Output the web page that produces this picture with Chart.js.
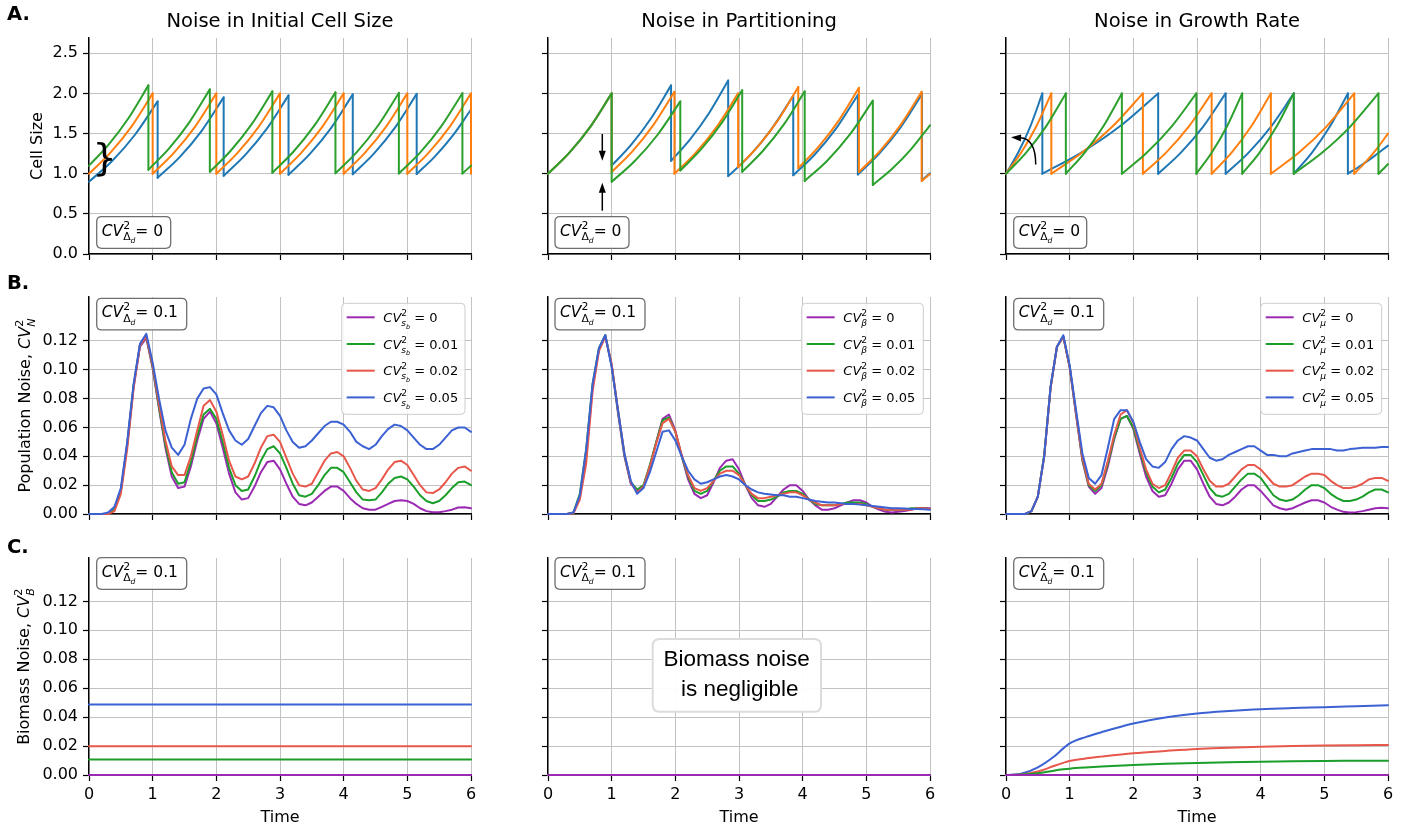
<!DOCTYPE html>
<html><head><meta charset="utf-8">
<script src="https://cdn.jsdelivr.net/npm/chart.js@4.4.1/dist/chart.umd.min.js"></script>
<style>html,body{margin:0;padding:0;background:#fff;width:1415px;height:829px;overflow:hidden;position:relative}canvas{position:absolute}</style>
</head><body>
<script>
// ---------------- DATA ----------------
// Row A: single-cell size traces [time, size]
const sizeInitBlue = [[0,0.9],[0.359,1.155],[0.719,1.482],[1.078,1.9],[1.078,0.95],[1.424,1.207],[1.770,1.534],[2.115,1.95],[2.115,0.975],[2.455,1.234],[2.794,1.561],[3.134,1.975],[3.134,0.9875],[3.470,1.247],[3.807,1.574],[4.143,1.9875],[4.143,0.994],[4.478,1.254],[4.812,1.581],[5.147,1.994],[5.147,0.997],[5.431,1.213],[5.716,1.477],[6,1.799]];
const sizeInitOrange = [[0,1],[0.333,1.26],[0.667,1.587],[1,2],[1,1],[1.333,1.26],[1.667,1.587],[2,2],[2,1],[2.333,1.26],[2.667,1.587],[3,2],[3,1],[3.333,1.26],[3.667,1.587],[4,2],[4,1],[4.333,1.26],[4.667,1.587],[5,2],[5,1],[5.333,1.26],[5.667,1.587],[6,2],[6,1]];
const sizeInitGreen = [[0,1.1],[0.311,1.365],[0.622,1.693],[0.933,2.1],[0.933,1.05],[1.255,1.312],[1.576,1.640],[1.898,2.05],[1.898,1.025],[2.225,1.286],[2.553,1.614],[2.880,2.025],[2.880,1.0125],[3.210,1.273],[3.541,1.601],[3.871,2.0125],[3.871,1.006],[4.203,1.266],[4.535,1.594],[4.867,2.006],[4.867,1.003],[5.200,1.262],[5.532,1.590],[5.865,2.003],[5.865,1.0015],[6,1.10]];

const partBlue = [[0,1],[0.333,1.26],[0.667,1.587],[1,2],[1,1.1],[1.311,1.365],[1.622,1.693],[1.933,2.1],[1.933,1.16],[2.232,1.427],[2.531,1.756],[2.830,2.16],[2.830,0.97],[3.171,1.228],[3.511,1.556],[3.852,1.97],[3.852,0.98],[4.190,1.239],[4.529,1.567],[4.867,1.98],[4.867,0.99],[5.203,1.250],[5.538,1.577],[5.874,1.99],[5.874,0.92],[6,1.004]];
const partOrange = [[0,1],[0.333,1.26],[0.667,1.587],[1,2],[1,1.02],[1.329,1.281],[1.657,1.609],[1.986,2.02],[1.986,1],[2.319,1.26],[2.653,1.587],[2.986,2],[2.986,1.08],[3.301,1.344],[3.616,1.671],[3.931,2.08],[3.931,1.07],[4.248,1.333],[4.566,1.661],[4.883,2.07],[4.883,1.02],[5.212,1.281],[5.540,1.609],[5.869,2.02],[5.869,0.91],[6,0.996]];
const partGreen = [[0,1],[0.333,1.26],[0.667,1.587],[1,2],[1,0.9],[1.359,1.155],[1.719,1.482],[2.078,1.9],[2.078,1.04],[2.402,1.302],[2.726,1.630],[3.050,2.04],[3.050,1.025],[3.377,1.286],[3.705,1.614],[4.032,2.025],[4.032,0.91],[4.389,1.165],[4.745,1.492],[5.102,1.91],[5.102,0.86],[5.401,1.058],[5.701,1.303],[6,1.603]];

const growBlue = [[0,1],[0.190,1.26],[0.381,1.587],[0.571,2],[0.571,1],[1.177,1.26],[1.784,1.587],[2.39,2],[2.39,1],[2.743,1.26],[3.097,1.587],[3.45,2],[3.45,1],[3.807,1.26],[4.163,1.587],[4.52,2],[4.52,1],[4.803,1.26],[5.087,1.587],[5.37,2],[5.37,1],[5.58,1.105],[5.79,1.222],[6,1.35]];
const growOrange = [[0,1],[0.237,1.26],[0.475,1.587],[0.712,2],[0.712,1],[1.191,1.26],[1.671,1.587],[2.15,2],[2.15,1],[2.51,1.26],[2.87,1.587],[3.23,2],[3.23,1],[3.54,1.26],[3.85,1.587],[4.16,2],[4.16,1],[4.597,1.26],[5.033,1.587],[5.47,2],[5.47,1],[5.647,1.145],[5.823,1.310],[6,1.5]];
const growGreen = [[0,1],[0.313,1.26],[0.627,1.587],[0.94,2],[0.94,1],[1.233,1.26],[1.527,1.587],[1.82,2],[1.82,1],[2.21,1.26],[2.60,1.587],[2.99,2],[2.99,1],[3.23,1.26],[3.47,1.587],[3.71,2],[3.71,1],[3.98,1.26],[4.25,1.587],[4.52,2],[4.52,1],[4.963,1.26],[5.407,1.587],[5.85,2],[5.85,1],[5.925,1.058],[6,1.12]];

// Row B: population noise, sampled every 0.1
const timeB = [0,0.1,0.2,0.3,0.4,0.5,0.6,0.7,0.8,0.9,1,1.1,1.2,1.3,1.4,1.5,1.6,1.7,1.8,1.9,2,2.1,2.2,2.3,2.4,2.5,2.6,2.7,2.8,2.9,3,3.1,3.2,3.3,3.4,3.5,3.6,3.7,3.8,3.9,4,4.1,4.2,4.3,4.4,4.5,4.6,4.7,4.8,4.9,5,5.1,5.2,5.3,5.4,5.5,5.6,5.7,5.8,5.9,6];
const popSb0  = [0,0,0,0,0.003,0.016,0.048,0.088,0.116,0.122,0.101,0.073,0.046,0.026,0.018,0.019,0.033,0.051,0.066,0.071,0.063,0.046,0.028,0.015,0.010,0.011,0.019,0.029,0.036,0.037,0.031,0.021,0.012,0.007,0.006,0.008,0.012,0.016,0.019,0.019,0.016,0.011,0.007,0.004,0.003,0.003,0.005,0.007,0.009,0.0095,0.009,0.007,0.004,0.002,0.0012,0.0012,0.002,0.003,0.0045,0.0047,0.004];
const popSb01 = [0,0,0,0,0.003,0.016,0.048,0.089,0.117,0.123,0.102,0.074,0.048,0.029,0.021,0.022,0.036,0.054,0.069,0.073,0.066,0.050,0.032,0.020,0.016,0.017,0.026,0.037,0.045,0.047,0.042,0.032,0.021,0.013,0.012,0.014,0.020,0.027,0.032,0.032,0.029,0.022,0.015,0.010,0.0095,0.010,0.015,0.021,0.025,0.026,0.024,0.019,0.013,0.009,0.0075,0.009,0.013,0.018,0.022,0.0225,0.020];
const popSb02 = [0,0,0,0,0.002,0.014,0.045,0.087,0.117,0.123,0.103,0.076,0.051,0.033,0.027,0.027,0.040,0.058,0.075,0.079,0.071,0.055,0.037,0.026,0.024,0.026,0.035,0.046,0.054,0.055,0.050,0.039,0.028,0.020,0.019,0.021,0.029,0.037,0.042,0.043,0.040,0.032,0.023,0.017,0.016,0.018,0.024,0.031,0.036,0.037,0.034,0.027,0.020,0.015,0.0145,0.017,0.022,0.028,0.032,0.033,0.030];
const popSb05 = [0,0,0,0.001,0.005,0.018,0.050,0.090,0.118,0.125,0.105,0.080,0.058,0.046,0.041,0.048,0.066,0.080,0.087,0.088,0.083,0.070,0.058,0.051,0.048,0.052,0.061,0.070,0.075,0.074,0.068,0.058,0.050,0.046,0.047,0.051,0.056,0.061,0.064,0.064,0.062,0.057,0.050,0.047,0.045,0.048,0.054,0.059,0.062,0.061,0.058,0.053,0.048,0.045,0.045,0.048,0.053,0.058,0.060,0.060,0.057];

const popBeta0  = [0,0,0,0,0.001,0.012,0.040,0.088,0.114,0.124,0.103,0.070,0.040,0.021,0.016,0.019,0.033,0.050,0.066,0.069,0.058,0.040,0.024,0.014,0.011,0.013,0.022,0.032,0.037,0.038,0.031,0.020,0.011,0.006,0.005,0.007,0.012,0.017,0.020,0.020,0.016,0.010,0.006,0.003,0.003,0.004,0.006,0.008,0.0095,0.0095,0.008,0.005,0.003,0.0015,0.001,0.0015,0.002,0.003,0.004,0.0042,0.004];
const popBeta01 = [0,0,0,0,0.001,0.014,0.045,0.090,0.115,0.124,0.103,0.071,0.041,0.022,0.017,0.020,0.034,0.050,0.065,0.067,0.057,0.040,0.026,0.016,0.014,0.016,0.023,0.030,0.033,0.033,0.028,0.020,0.013,0.009,0.009,0.010,0.012,0.015,0.016,0.016,0.014,0.010,0.007,0.006,0.006,0.006,0.007,0.008,0.008,0.008,0.007,0.005,0.004,0.003,0.003,0.003,0.003,0.004,0.004,0.004,0.0035];
const popBeta02 = [0,0,0,0,0.0005,0.010,0.035,0.085,0.113,0.123,0.104,0.072,0.042,0.022,0.015,0.019,0.033,0.049,0.063,0.066,0.057,0.041,0.027,0.018,0.016,0.018,0.023,0.028,0.030,0.030,0.027,0.020,0.014,0.011,0.011,0.012,0.013,0.014,0.015,0.015,0.013,0.010,0.008,0.006,0.006,0.006,0.007,0.007,0.007,0.007,0.006,0.005,0.004,0.003,0.003,0.003,0.003,0.003,0.004,0.004,0.0035];
const popBeta05 = [0,0,0,0,0.001,0.013,0.045,0.090,0.115,0.124,0.102,0.072,0.042,0.023,0.014,0.018,0.029,0.043,0.057,0.058,0.051,0.040,0.030,0.024,0.021,0.022,0.024,0.026,0.027,0.026,0.024,0.020,0.017,0.015,0.014,0.0135,0.013,0.013,0.012,0.012,0.011,0.010,0.009,0.0085,0.008,0.008,0.0075,0.007,0.007,0.0065,0.006,0.0055,0.005,0.0045,0.004,0.004,0.0038,0.0035,0.0035,0.0033,0.003];

const popMu0  = [0,0,0,0,0.002,0.012,0.040,0.088,0.116,0.123,0.102,0.069,0.037,0.019,0.014,0.018,0.033,0.052,0.066,0.068,0.059,0.042,0.026,0.016,0.012,0.013,0.021,0.031,0.037,0.037,0.031,0.021,0.012,0.007,0.006,0.008,0.012,0.017,0.020,0.020,0.016,0.011,0.006,0.004,0.003,0.004,0.006,0.008,0.0095,0.0095,0.008,0.005,0.003,0.0015,0.001,0.0013,0.002,0.003,0.004,0.0043,0.004];
const popMu01 = [0,0,0,0,0.002,0.012,0.041,0.088,0.116,0.123,0.102,0.070,0.038,0.020,0.016,0.020,0.035,0.053,0.066,0.068,0.060,0.044,0.029,0.019,0.015,0.017,0.025,0.035,0.041,0.041,0.036,0.027,0.018,0.013,0.012,0.014,0.019,0.024,0.028,0.028,0.025,0.019,0.013,0.010,0.009,0.010,0.013,0.017,0.020,0.020,0.018,0.014,0.011,0.009,0.009,0.010,0.012,0.015,0.017,0.017,0.015];
const popMu02 = [0,0,0,0,0.002,0.012,0.040,0.087,0.116,0.123,0.102,0.070,0.039,0.021,0.017,0.021,0.037,0.055,0.069,0.072,0.063,0.046,0.031,0.021,0.018,0.020,0.029,0.039,0.044,0.044,0.040,0.031,0.023,0.019,0.019,0.021,0.026,0.031,0.034,0.034,0.031,0.026,0.021,0.019,0.019,0.020,0.023,0.026,0.028,0.028,0.027,0.023,0.020,0.018,0.018,0.019,0.021,0.024,0.025,0.025,0.023];
const popMu05 = [0,0,0,0,0.002,0.012,0.040,0.088,0.116,0.124,0.103,0.072,0.042,0.025,0.021,0.027,0.046,0.066,0.072,0.072,0.064,0.050,0.038,0.033,0.032,0.036,0.045,0.051,0.054,0.053,0.051,0.045,0.039,0.037,0.038,0.041,0.043,0.045,0.047,0.047,0.044,0.041,0.041,0.040,0.040,0.042,0.043,0.044,0.045,0.045,0.045,0.045,0.044,0.044,0.045,0.0455,0.046,0.046,0.046,0.0465,0.0465];

// Row C: biomass noise
const timeFlat = [0, 6];
const bioInit0 = [0, 0], bioInit01 = [0.0107, 0.0107], bioInit02 = [0.0198, 0.0198], bioInit05 = [0.0488, 0.0488];
const bioPart0 = [0, 0], bioPart01 = [0, 0], bioPart02 = [0, 0], bioPart05 = [0, 0];
const timeC = [0,0.25,0.5,0.75,0.9,1,1.25,1.5,2,2.5,3,3.5,4,4.5,5,5.5,6];
const bioMu0  = [0,0,0,0,0,0,0,0,0,0,0,0,0,0,0,0,0];
const bioMu01 = [0,0.0003,0.0013,0.003,0.0039,0.0044,0.0052,0.0058,0.0069,0.0077,0.0083,0.0088,0.0092,0.0095,0.0097,0.0098,0.0099];
const bioMu02 = [0,0.0004,0.0024,0.0062,0.0084,0.0097,0.0114,0.0127,0.0150,0.0166,0.0180,0.0188,0.0195,0.0200,0.0204,0.0206,0.0207];
const bioMu05 = [0,0.001,0.0053,0.0126,0.0184,0.0218,0.0262,0.0296,0.0356,0.0398,0.0425,0.0442,0.0455,0.0463,0.0469,0.0476,0.0483];

// Tick labels / text
const xTickVals = [0,1,2,3,4,5,6];
const yTicksA = [0,0.5,1.0,1.5,2.0,2.5];
const yTicksBC = [0,0.02,0.04,0.06,0.08,0.10,0.12];
const colTitles = ['Noise in Initial Cell Size', 'Noise in Partitioning', 'Noise in Growth Rate'];
const legendVals = ['0', '0.01', '0.02', '0.05'];

// ---------------- STYLE / LAYOUT ----------------
const FAM = '"DejaVu Sans", sans-serif';
const TAB = ['#1f77b4', '#ff7f0e', '#2ca02c'];
const NC = {p:'#9b2ab3', g:'#1b9e2a', r:'#e8574b', b:'#3b61d3'};
const COLS = [{x0:0,x1:480,L:89,R:471},{x0:480,x1:940,L:548,R:930},{x0:940,x1:1415,L:1006,R:1388}];
const ROWS = [{y0:0,y1:262,T:38,B:254},{y0:262,y1:525,T:297,B:514},{y0:525,y1:829,T:558,B:775}];

function pairs(arr){ return arr.map(p => ({x:p[0], y:p[1]})); }
function zipXY(xs, ys){ return xs.map((x,i) => ({x, y:ys[i]})); }
function ds(data, color, extra){ return Object.assign({data, borderColor:color, backgroundColor:color, showLine:true, pointRadius:0, borderWidth:2, borderJoinStyle:'round', borderCapStyle:'round', fill:false, clip:4}, extra||{}); }
// split a sawtooth trace into smooth growth pieces and vertical division drops
function traceSets(arr, color){
  const out = []; let cur = [arr[0]];
  for (let i = 1; i < arr.length; i++){
    if (arr[i][0] === arr[i-1][0]){
      if (cur.length > 1) out.push(ds(pairs(cur), color, {cubicInterpolationMode:'monotone'}));
      out.push(ds(pairs([arr[i-1], arr[i]]), color));
      cur = [arr[i]];
    } else cur.push(arr[i]);
  }
  if (cur.length > 1) out.push(ds(pairs(cur), color, {cubicInterpolationMode:'monotone'}));
  return out;
}

// rich text (super/subscripts)
function rich(ctx, parts, x, y, size, draw){
  let cx = x;
  for (const p of parts){
    if (typeof p === 'string' || p.t !== undefined){
      const t = typeof p === 'string' ? p : p.t;
      ctx.font = ((typeof p === 'object' && p.i) ? 'italic ' : '') + size + 'px ' + FAM;
      if (draw) ctx.fillText(t, cx, y);
      cx += ctx.measureText(t).width;
    } else {
      const a = p.sup ? rich(ctx, p.sup, cx, y - size*0.45, size*0.7, draw) : 0;
      const b = p.sub ? rich(ctx, p.sub, cx, y + size*0.3, size*0.7, draw) : 0;
      cx += Math.max(a, b);
    }
  }
  return cx - x;
}
const cvDelta = v => [{t:'CV',i:1},{sup:['2'],sub:['Δ',{sub:[{t:'d',i:1}]}]},'= '+v];
const cvSb = v => [{t:'CV',i:1},{sup:['2'],sub:[{t:'s',i:1},{sub:[{t:'b',i:1}]}]},' = '+v];
const cvBeta = v => [{t:'CV',i:1},{sup:['2'],sub:[{t:'β',i:1}]},' = '+v];
const cvMu = v => [{t:'CV',i:1},{sup:['2'],sub:[{t:'μ',i:1}]},' = '+v];

function rrect(ctx, x, y, w, h, r){
  ctx.beginPath(); ctx.moveTo(x+r,y); ctx.lineTo(x+w-r,y); ctx.quadraticCurveTo(x+w,y,x+w,y+r);
  ctx.lineTo(x+w,y+h-r); ctx.quadraticCurveTo(x+w,y+h,x+w-r,y+h); ctx.lineTo(x+r,y+h);
  ctx.quadraticCurveTo(x,y+h,x,y+h-r); ctx.lineTo(x,y+r); ctx.quadraticCurveTo(x,y,x+r,y); ctx.closePath();
}
function cvBox(ctx, x, y, w, val){
  const h = 31.6;
  rrect(ctx, x, y, w, h, 5); ctx.fillStyle = 'rgba(255,255,255,0.9)'; ctx.fill();
  ctx.lineWidth = 1.3; ctx.strokeStyle = '#6f6f6f'; ctx.stroke();
  ctx.fillStyle = '#000'; ctx.textAlign = 'left'; ctx.textBaseline = 'alphabetic';
  rich(ctx, cvDelta(val), x + 5, y + h/2 + 3, 15.5, true);
}
function legendBox(ctx, x, y, w, colors, labels){
  rrect(ctx, x, y, w, 111, 4); ctx.fillStyle = 'rgba(255,255,255,0.85)'; ctx.fill();
  ctx.lineWidth = 1; ctx.strokeStyle = '#cccccc'; ctx.stroke();
  colors.forEach((c, i) => {
    const cy = y + 14 + i*26.7;
    ctx.beginPath(); ctx.moveTo(x+5, cy); ctx.lineTo(x+33, cy); ctx.strokeStyle = c; ctx.lineWidth = 2; ctx.stroke();
    ctx.fillStyle = '#000'; ctx.textAlign = 'left'; ctx.textBaseline = 'alphabetic';
    rich(ctx, labels[i], x + 41.6, cy + 4.6, 13, true);
  });
}
function yLabel(ctx, parts, bx, cy){
  ctx.save(); ctx.translate(bx, cy); ctx.rotate(-Math.PI/2);
  ctx.fillStyle = '#000'; ctx.textAlign = 'left'; ctx.textBaseline = 'alphabetic';
  const w = rich(ctx, parts, 0, 0, 16, false);
  rich(ctx, parts, -w/2, 0, 16, true);
  ctx.restore();
}
function head(ctx, tx, ty, ang, len, wid){
  const c = Math.cos(ang), s = Math.sin(ang);
  ctx.beginPath(); ctx.moveTo(tx, ty);
  ctx.lineTo(tx - len*c + wid/2*s, ty - len*s - wid/2*c);
  ctx.lineTo(tx - len*c - wid/2*s, ty - len*s + wid/2*c);
  ctx.closePath(); ctx.fill();
}
function title(ctx, c){
  const C = COLS[c];
  ctx.fillStyle = '#000'; ctx.textAlign = 'center'; ctx.textBaseline = 'alphabetic';
  ctx.font = '19.5px ' + FAM; ctx.fillText(colTitles[c], (C.L + C.R)/2, 27.3);
}
function letter(ctx, t, y){
  ctx.fillStyle = '#000'; ctx.textAlign = 'left'; ctx.textBaseline = 'alphabetic';
  ctx.font = 'bold 19.5px ' + FAM; ctx.fillText(t, 7, y);
}
function timeLabel(ctx, c){
  const C = COLS[c];
  ctx.fillStyle = '#000'; ctx.textAlign = 'center'; ctx.textBaseline = 'alphabetic';
  ctx.font = '16px ' + FAM; ctx.fillText('Time', (C.L + C.R)/2, 821.7);
}

function panel(r, c, datasets, yMax, yTicks, dec, draw){
  const C = COLS[c], R = ROWS[r];
  const cv = document.createElement('canvas');
  const w = C.x1 - C.x0, h = R.y1 - R.y0;
  cv.width = w; cv.height = h;
  cv.style.left = C.x0 + 'px'; cv.style.top = R.y0 + 'px'; cv.style.width = w + 'px'; cv.style.height = h + 'px';
  document.body.appendChild(cv);
  const yW = c === 0 ? 50 : 12, xH = r === 2 ? 45 : 8;
  const gridOpt = {color:'#c2c2c2', lineWidth:1, tickColor:'#000', tickLength:6, drawTicks:true, tickWidth:1.2};
  const borderOpt = {color:'#000', width:1.4};
  new Chart(cv, {
    type: 'scatter',
    data: {datasets},
    options: {
      responsive:false, animation:false, devicePixelRatio:1, events:[],
      layout:{padding:{left:C.L - C.x0 - yW, right:C.x1 - C.R, top:R.T - R.y0, bottom:R.y1 - R.B - xH}},
      plugins:{legend:{display:false}, tooltip:{enabled:false}},
      scales:{
        x:{type:'linear', min:0, max:6,
           afterBuildTicks(s){ s.ticks = xTickVals.map(v => ({value:v})); },
           ticks:{display:r === 2, color:'#000', font:{family:FAM, size:16}, padding:4, maxRotation:0, callback:v => String(v)},
           grid:gridOpt, border:borderOpt,
           afterFit(s){ s.height = xH; s.paddingLeft = 0; s.paddingRight = 0; s.paddingTop = 0; s.paddingBottom = 0; }},
        y:{type:'linear', min:0, max:yMax,
           afterBuildTicks(s){ s.ticks = yTicks.map(v => ({value:v})); },
           ticks:{display:c === 0, color:'#000', font:{family:FAM, size:16}, padding:5, callback:v => Number(v).toFixed(dec)},
           grid:gridOpt, border:borderOpt,
           afterFit(s){ s.width = yW; s.paddingLeft = 0; s.paddingRight = 0; s.paddingTop = 0; s.paddingBottom = 0; }}
      }
    },
    plugins:[{id:'ann', afterDraw(chart){ const ctx = chart.ctx; ctx.save(); ctx.translate(-C.x0, -R.y0); draw(ctx, chart); ctx.restore(); }}]
  });
}

const rowBColors = [NC.p, NC.g, NC.r, NC.b];
function rowB(arrs){ return [ds(zipXY(timeB, arrs[3]), NC.b), ds(zipXY(timeB, arrs[2]), NC.r), ds(zipXY(timeB, arrs[1]), NC.g), ds(zipXY(timeB, arrs[0]), NC.p)]; }
function rowC(ts, arrs, extra){ return [ds(zipXY(ts, arrs[0]), NC.p, extra), ds(zipXY(ts, arrs[1]), NC.g, extra), ds(zipXY(ts, arrs[2]), NC.r, extra), ds(zipXY(ts, arrs[3]), NC.b, extra)]; }
function rowA(g, o, b){ return [...traceSets(g, TAB[2]), ...traceSets(o, TAB[1]), ...traceSets(b, TAB[0])]; }

// Row A
panel(0, 0, rowA(sizeInitGreen, sizeInitOrange, sizeInitBlue), 2.69, yTicksA, 1, ctx => {
  title(ctx, 0); letter(ctx, 'A.', 20);
  yLabel(ctx, ['Cell Size'], 41.7, 146);
  cvBox(ctx, 96.7, 216.7, 74, '0');
  ctx.fillStyle = '#000'; ctx.font = '38px ' + FAM; ctx.textAlign = 'center'; ctx.textBaseline = 'middle';
  ctx.fillText('}', 104.5, 160);
});
panel(0, 1, rowA(partGreen, partOrange, partBlue), 2.69, yTicksA, 1, ctx => {
  title(ctx, 1);
  cvBox(ctx, 555, 216.7, 74, '0');
  ctx.strokeStyle = '#000'; ctx.fillStyle = '#000'; ctx.lineWidth = 1.5;
  ctx.beginPath(); ctx.moveTo(602.3, 134); ctx.lineTo(602.3, 152); ctx.stroke(); head(ctx, 602.3, 160.7, Math.PI/2, 10, 7);
  ctx.beginPath(); ctx.moveTo(602.3, 210.7); ctx.lineTo(602.3, 192); ctx.stroke(); head(ctx, 602.3, 182.7, -Math.PI/2, 10, 7);
});
panel(0, 2, rowA(growGreen, growOrange, growBlue), 2.69, yTicksA, 1, ctx => {
  title(ctx, 2);
  cvBox(ctx, 1013.7, 216.7, 73, '0');
  ctx.strokeStyle = '#000'; ctx.fillStyle = '#000'; ctx.lineWidth = 1.5;
  ctx.beginPath(); ctx.moveTo(1035.7, 164.5); ctx.quadraticCurveTo(1035.7, 138.5, 1020, 137.8); ctx.stroke();
  head(ctx, 1011, 137.3, Math.PI + 0.06, 10, 7);
});

// Row B
panel(1, 0, rowB([popSb0, popSb01, popSb02, popSb05]), 0.1505, yTicksBC, 2, ctx => {
  letter(ctx, 'B.', 289.3);
  yLabel(ctx, ['Population Noise, ', {t:'CV',i:1}, {sup:['2'], sub:[{t:'N',i:1}]}], 30, 405.5);
  cvBox(ctx, 96.7, 298.3, 90, '0.1');
  legendBox(ctx, 341.7, 303.3, 123.3, rowBColors, legendVals.map(cvSb));
});
panel(1, 1, rowB([popBeta0, popBeta01, popBeta02, popBeta05]), 0.1505, yTicksBC, 2, ctx => {
  cvBox(ctx, 555, 298.3, 90, '0.1');
  legendBox(ctx, 801.7, 303.3, 121.6, rowBColors, legendVals.map(cvBeta));
});
panel(1, 2, rowB([popMu0, popMu01, popMu02, popMu05]), 0.1505, yTicksBC, 2, ctx => {
  cvBox(ctx, 1013.7, 298.3, 90, '0.1');
  legendBox(ctx, 1260.7, 303.3, 121, rowBColors, legendVals.map(cvMu));
});

// Row C
panel(2, 0, rowC(timeFlat, [bioInit0, bioInit01, bioInit02, bioInit05]), 0.15, yTicksBC, 2, ctx => {
  letter(ctx, 'C.', 553.3);
  yLabel(ctx, ['Biomass Noise, ', {t:'CV',i:1}, {sup:['2'], sub:[{t:'B',i:1}]}], 29, 666.5);
  cvBox(ctx, 96.7, 557.7, 90, '0.1');
  timeLabel(ctx, 0);
});
panel(2, 1, rowC(timeFlat, [bioPart0, bioPart01, bioPart02, bioPart05]), 0.15, yTicksBC, 2, ctx => {
  cvBox(ctx, 555, 557.7, 90, '0.1');
  timeLabel(ctx, 1);
  rrect(ctx, 652.7, 639, 168.3, 72.7, 7); ctx.fillStyle = 'rgba(255,255,255,0.95)'; ctx.fill();
  ctx.lineWidth = 2; ctx.strokeStyle = '#dcdcdc'; ctx.stroke();
  ctx.fillStyle = '#000'; ctx.textAlign = 'center'; ctx.textBaseline = 'alphabetic';
  ctx.font = '22.5px "Liberation Sans", Arial, sans-serif';
  ctx.fillText('Biomass noise', 736.7, 666);
  ctx.fillText('is negligible', 739.7, 696);
});
panel(2, 2, rowC(timeC, [bioMu0, bioMu01, bioMu02, bioMu05], {cubicInterpolationMode:'monotone'}), 0.15, yTicksBC, 2, ctx => {
  cvBox(ctx, 1013.7, 557.7, 90, '0.1');
  timeLabel(ctx, 2);
});
</script>
</body></html>
